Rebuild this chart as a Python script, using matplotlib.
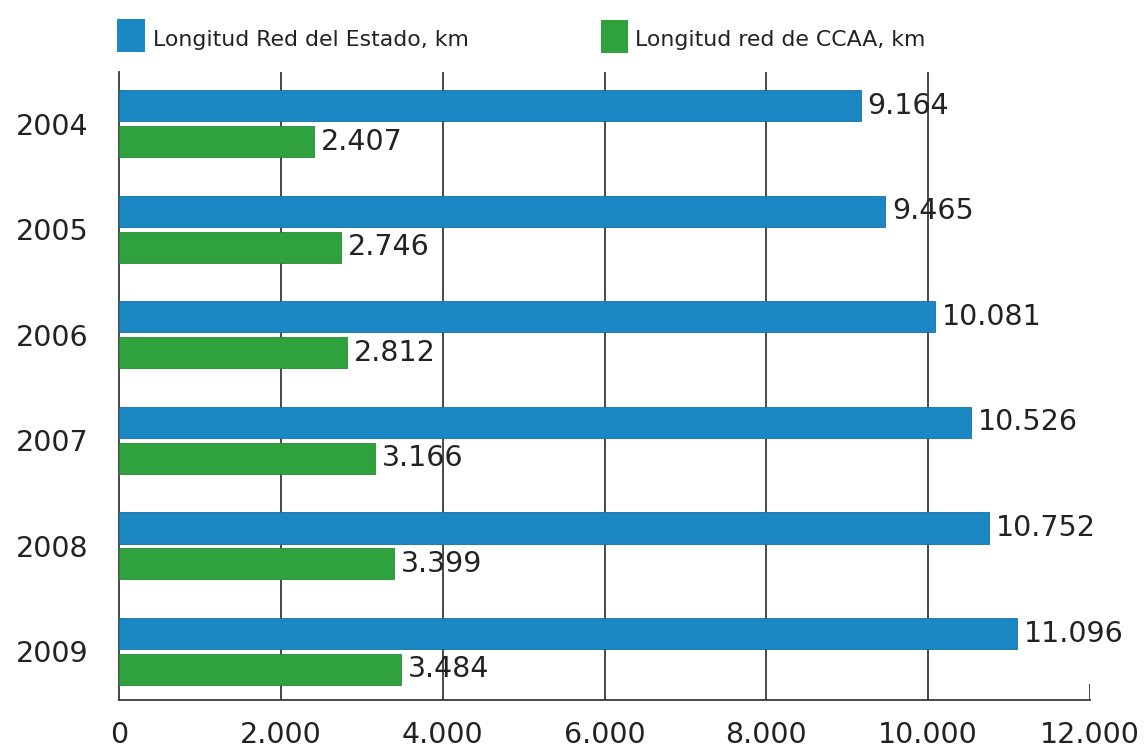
import matplotlib
matplotlib.use("Agg")
import matplotlib.pyplot as plt
from matplotlib.patches import Rectangle

years = ["2004", "2005", "2006", "2007", "2008", "2009"]
estado = [9164, 9465, 10081, 10526, 10752, 11096]
ccaa = [2407, 2746, 2812, 3166, 3399, 3484]
estado_labels = ["9.164", "9.465", "10.081", "10.526", "10.752", "11.096"]
ccaa_labels = ["2.407", "2.746", "2.812", "3.166", "3.399", "3.484"]
xticks = [0, 2000, 4000, 6000, 8000, 10000, 12000]
xtick_labels = ["0", "2.000", "4.000", "6.000", "8.000", "10.000", "12.000"]
legend_names = ["Longitud Red del Estado, km", "Longitud red de CCAA, km"]

BLUE = "#1b87c3"
GREEN = "#2fa23e"
TXT = "#222222"

plt.rcParams['font.family'] = ['DejaVu Sans']

fig = plt.figure(figsize=(11.48, 7.51), dpi=100)
fig.patch.set_facecolor("white")
ax = fig.add_axes([119/1148, 51/751, (1090-119)/1148, (700-72)/751])
ax.set_facecolor("white")

ypos = list(range(len(years)))
h = 0.295
off = 0.17
ax.barh([y - off for y in ypos], estado, height=h, color=BLUE,
        edgecolor="#1670a5", linewidth=0.6, zorder=3)
ax.barh([y + off for y in ypos], ccaa, height=h, color=GREEN,
        edgecolor="#268a33", linewidth=0.6, zorder=3)

for y, v, lab in zip(ypos, estado, estado_labels):
    ax.text(v + 85, y - off, lab, va="center", ha="left", fontsize=20.5,
            color=TXT, zorder=4)
for y, v, lab in zip(ypos, ccaa, ccaa_labels):
    ax.text(v + 85, y + off, lab, va="center", ha="left", fontsize=20.5,
            color=TXT, zorder=4)

ymin, ymax = 5.46, -0.49
ax.set_xlim(0, 12000)
ax.set_ylim(ymin, ymax)

# vertical grid lines (full height) except the last one, which is a short tick
ax.vlines(xticks[1:-1], ymin, ymax, colors="#3a3a3a", linewidth=1.3, zorder=1)
ax.vlines(xticks[-1], ymin, ymin - 16/105.5, colors="#3a3a3a", linewidth=1.3, zorder=1)

for s in ["top", "right"]:
    ax.spines[s].set_visible(False)
for s in ["left", "bottom"]:
    ax.spines[s].set_color("#3a3a3a")
    ax.spines[s].set_linewidth(1.3)

ax.set_xticks(xticks)
ax.set_xticklabels(xtick_labels, fontsize=20.5, color=TXT)
ax.set_yticks(ypos)
ax.set_yticklabels(years, fontsize=20.5, color=TXT)
ax.tick_params(axis="x", length=0, pad=15)
ax.tick_params(axis="y", length=0, pad=22)

# legend
def fx(px):
    return px / 1148
def fy(py):
    return 1 - py / 751

fig.patches.append(Rectangle((fx(117), fy(52)), 28/1148, 33/751, transform=fig.transFigure,
                             facecolor=BLUE, edgecolor="none"))
fig.text(fx(153), fy(40), legend_names[0], fontsize=15.8, color=TXT, va="center", ha="left")
fig.patches.append(Rectangle((fx(601), fy(53)), 27/1148, 33/751, transform=fig.transFigure,
                             facecolor=GREEN, edgecolor="none"))
fig.text(fx(635), fy(40), legend_names[1], fontsize=15.8, color=TXT, va="center", ha="left")

fig.savefig("out.png", dpi=100, facecolor="white")
